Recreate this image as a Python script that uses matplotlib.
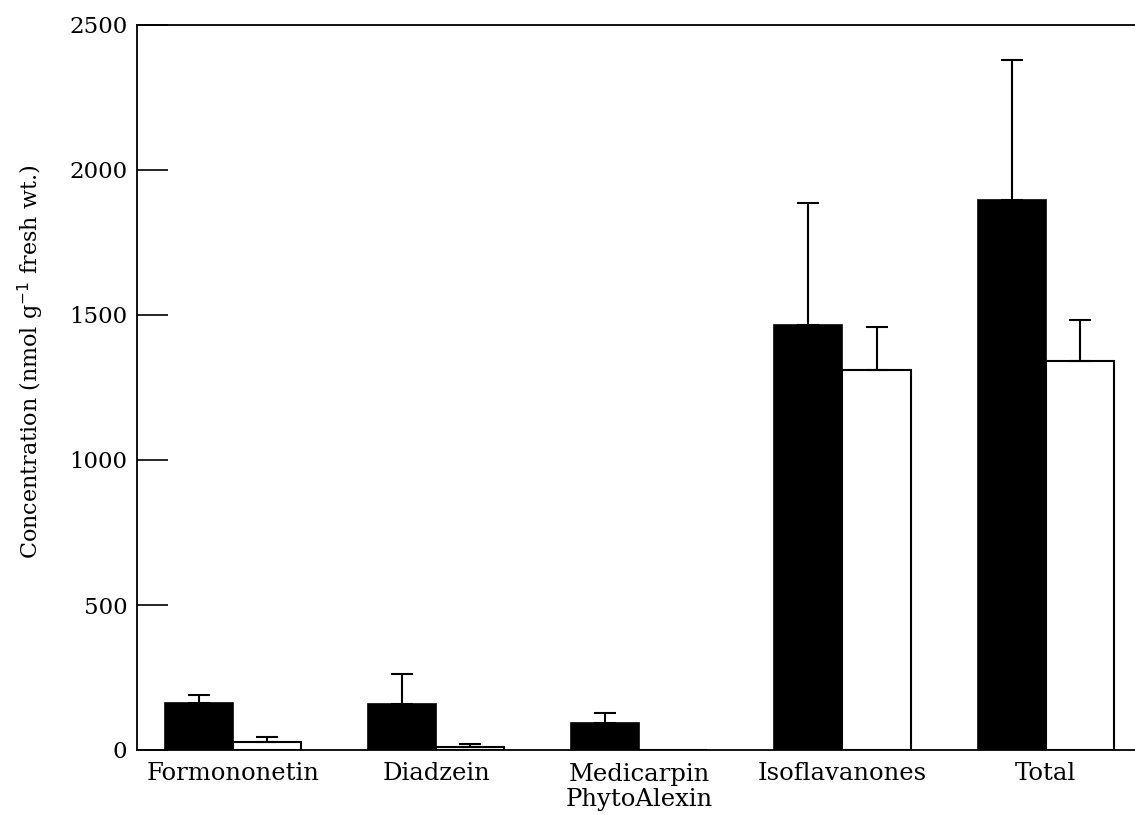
import matplotlib
matplotlib.use("Agg")
import matplotlib.pyplot as plt
import numpy as np

categories = ["Formononetin", "Diadzein", "Medicarpin\nPhytoAlexin", "Isoflavanones", "Total"]
black_values = [163, 157, 92, 1466, 1897]
black_err = [27, 104, 35, 420, 482]
white_values = [29, 10, 0, 1310, 1342]
white_err = [15, 10, 0, 150, 141]
yticks = [0, 500, 1000, 1500, 2000, 2500]

plt.rcParams['font.family'] = ['DejaVu Serif']

fig = plt.figure(figsize=(11.35, 8.15), dpi=100)
ax = fig.add_axes([137/1135, 65/815, 1 - 137/1135, 725/815])

x = np.arange(len(categories))
w = 0.335
ax.bar(x - w/2, black_values, w, color='black', edgecolor='black', linewidth=1.2)
ax.bar(x + w/2, white_values, w, color='white', edgecolor='black', linewidth=1.5)

bv = np.array(black_values); be = np.array(black_err)
wv = np.array(white_values); we = np.array(white_err)
mb = be > 0
mw = we > 0
ax.errorbar((x - w/2)[mb], bv[mb], yerr=[np.zeros(mb.sum()), be[mb]], fmt='none',
            ecolor='black', elinewidth=1.5, capsize=8, capthick=1.5)
ax.errorbar((x + w/2)[mw], wv[mw], yerr=[np.zeros(mw.sum()), we[mw]], fmt='none',
            ecolor='black', elinewidth=1.5, capsize=8, capthick=1.5)

ax.set_xlim(-0.473, 4.44)
ax.set_ylim(0, 2500)
ax.set_yticks(yticks)
ax.set_yticklabels([str(t) for t in yticks], fontsize=16.5)
ax.tick_params(axis='y', direction='in', length=22, width=1.2, pad=7)
ax.set_xticks(x)
ax.set_xticklabels(categories, fontsize=17.5, linespacing=1.12)
ax.tick_params(axis='x', length=0, pad=9)

for s in ['left', 'top', 'bottom']:
    ax.spines[s].set_linewidth(1.3)
ax.spines['right'].set_visible(False)

ax.set_ylabel("Concentration (nmol g$^{-1}$ fresh wt.)", fontsize=16)
ax.yaxis.set_label_coords(-0.091, 0.535)

fig.savefig("out.png", dpi=100)
